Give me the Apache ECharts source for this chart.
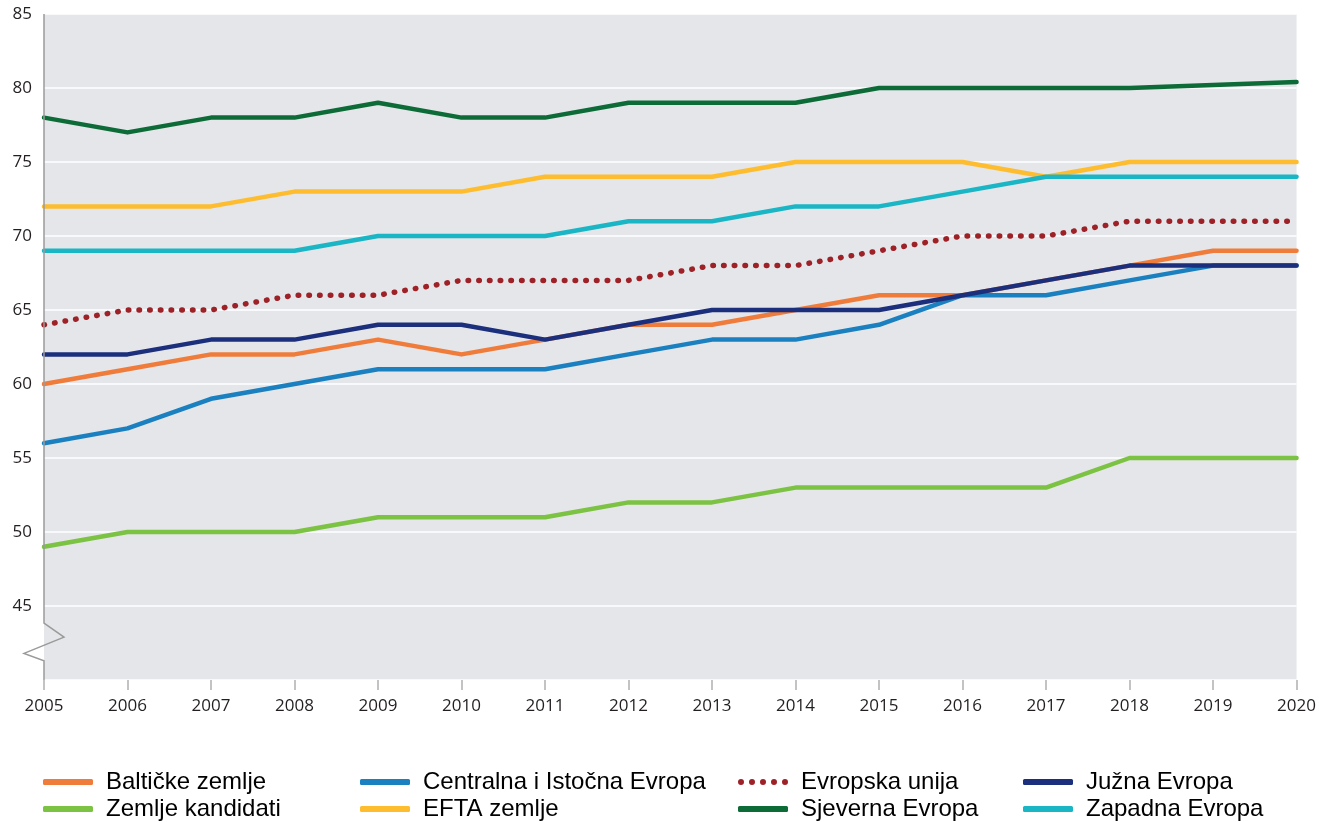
<!DOCTYPE html>
<html>
<head>
<meta charset="utf-8">
<script src="https://cdn.jsdelivr.net/npm/echarts@6/dist/echarts.min.js"></script>
<style>
html,body{margin:0;padding:0;background:#fff;}
#chart{width:1319px;height:822px;}
</style>
</head>
<body>
<div id="chart"></div>
<script>
var years = ['2005','2006','2007','2008','2009','2010','2011','2012','2013','2014','2015','2016','2017','2018','2019','2020'];
var yTicks = [45, 50, 55, 60, 65, 70, 75, 80, 85];

var baltic    = [60,61,62,62,63,62,63,64,64,65,66,66,67,68,69,69];
var candidate = [49,50,50,50,51,51,51,52,52,53,53,53,53,55,55,55];
var central   = [56,57,59,60,61,61,61,62,63,63,64,66,66,67,68,68];
var efta      = [72,72,72,73,73,73,74,74,74,75,75,75,74,75,75,75];
var eu        = [64,65,65,66,66,67,67,67,68,68,69,70,70,71,71,71];
var northern  = [78,77,78,78,79,78,78,79,79,79,80,80,80,80,80.2,80.4];
var southern  = [62,62,63,63,64,64,63,64,65,65,65,66,67,68,68,68];
var western   = [69,69,69,69,70,70,70,71,71,72,72,73,74,74,74,74];

var names = ['Baltičke zemlje','Zemlje kandidati','Centralna i Istočna Evropa','EFTA zemlje',
             'Evropska unija','Sjeverna Evropa','Južna Evropa','Zapadna Evropa'];

function mk(name, data, color, dotted) {
  return {
    name: name, type: 'line', data: data, symbol: 'none', smooth: false,
    lineStyle: dotted ? {color: color, width: 5.5, type: [0.5, 10.2], cap: 'round'}
                      : {color: color, width: 4.5, cap: 'round', join: 'round'},
    itemStyle: {color: color},
    z: dotted ? 3 : 2
  };
}

var dotsIcon = 'path://M0,3 A3,3 0 1,1 6,3 A3,3 0 1,1 0,3 Z M11,3 A3,3 0 1,1 17,3 A3,3 0 1,1 11,3 Z M22,3 A3,3 0 1,1 28,3 A3,3 0 1,1 22,3 Z M33,3 A3,3 0 1,1 39,3 A3,3 0 1,1 33,3 Z M44,3 A3,3 0 1,1 50,3 A3,3 0 1,1 44,3 Z';

var legendText = {fontFamily: '"Liberation Sans", Arial, sans-serif', fontSize: 24, color: '#000', lineHeight: 26, padding: [0,0,0,8]};
function lg(left, items) {
  return {
    orient: 'vertical', left: left, top: 769, height: 100, padding: 0,
    itemWidth: 50, itemHeight: 6, itemGap: 1,
    data: items, textStyle: legendText, selectedMode: false, icon: 'roundRect',
    itemStyle: {borderWidth: 0}
  };
}

var chart = echarts.init(document.getElementById('chart'));
chart.setOption({
  animation: false,
  backgroundColor: '#fff',
  grid: {left: 44, right: 21, top: 14, bottom: 142, show: true, backgroundColor: '#e4e6e9', borderWidth: 0},
  legend: [
    lg(43, [names[0], names[1]]),
    lg(360, [names[2], names[3]]),
    lg(738, [{name: names[4], icon: dotsIcon}, names[5]]),
    lg(1023, [names[6], names[7]])
  ],
  xAxis: {
    type: 'category', data: years, boundaryGap: false,
    axisLine: {show: false},
    axisTick: {show: true, alignWithLabel: true, length: 10, lineStyle: {color: '#b0b0b0', width: 1.5}},
    axisLabel: {margin: 18, fontFamily: '"Open Sans", sans-serif', fontSize: 17, color: '#231f20'},
    splitLine: {show: false}
  },
  yAxis: {
    type: 'value', min: 40, max: 85, interval: 5,
    axisLine: {show: false}, axisTick: {show: false},
    axisLabel: {margin: 12, fontFamily: '"Open Sans", sans-serif', fontSize: 17, color: '#231f20',
      formatter: function (v) { return yTicks.indexOf(v) >= 0 ? String(v) : ''; }},
    splitLine: {show: true, lineStyle: {color: '#ffffff', width: 1.5}}
  },
  series: [
    mk(names[0], baltic, '#f07c3b'),
    mk(names[1], candidate, '#7cc243'),
    mk(names[2], central, '#1a80c0'),
    mk(names[3], efta, '#fdbd2f'),
    mk(names[4], eu, '#9d2127', true),
    mk(names[5], northern, '#0d6b38'),
    mk(names[6], southern, '#1b2f7c'),
    mk(names[7], western, '#1ab6c6')
  ]
});

// y-axis line with a break (zigzag) drawn from axis coordinates
function px(v) { return chart.convertToPixel({yAxisIndex: 0}, v); }
var x0 = chart.convertToPixel({xAxisIndex: 0}, '2005');
var pts = [
  [x0, px(85)], [x0, px(43.85)], [x0 + 20, px(42.9)], [x0 - 20, px(41.8)], [x0, px(41.3)], [x0, px(40)]
];
chart.setOption({
  graphic: [{
    type: 'polyline', shape: {points: pts}, silent: true, z: 100,
    style: {stroke: '#9a9a9a', lineWidth: 1.5, fill: null}
  }]
});
</script>
</body>
</html>
